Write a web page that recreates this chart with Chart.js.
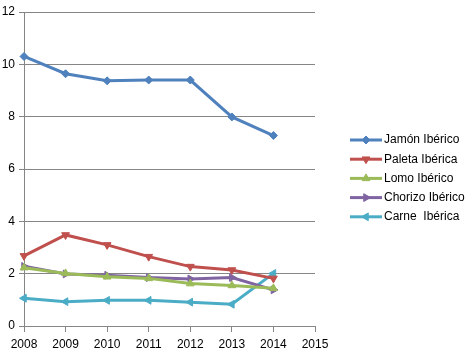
<!DOCTYPE html>
<html>
<head>
<meta charset="utf-8">
<script src="https://cdn.jsdelivr.net/npm/chart.js"></script>
<style>
  html, body { margin: 0; padding: 0; background: #fff; }
  #wrap { width: 472px; height: 353px; }
</style>
</head>
<body>
<div id="wrap"><canvas id="chart" width="472" height="353"></canvas></div>
<script>
const years = ["2008", "2009", "2010", "2011", "2012", "2013", "2014", "2015"];
const seriesNames = ["Jamón Ibérico", "Paleta Ibérica", "Lomo Ibérico", "Chorizo Ibérico", "Carne  Ibérica"];
const jamon = [10.30, 9.64, 9.37, 9.40, 9.40, 7.99, 7.28];
const paleta = [2.68, 3.48, 3.10, 2.65, 2.27, 2.14, 1.82];
const lomo = [2.23, 2.01, 1.88, 1.82, 1.62, 1.55, 1.44];
const chorizo = [2.28, 1.99, 1.94, 1.85, 1.80, 1.85, 1.38];
const carne = [1.06, 0.93, 0.98, 0.98, 0.91, 0.83, 2.01];
const yTicks = [0, 2, 4, 6, 8, 10, 12];

const colors = ["#4F81BD", "#C0504D", "#9BBB59", "#8064A2", "#4BACC6"];
const markers = [
  { style: "rectRot", rotation: 0, radius: 4 },
  { style: "triangle", rotation: 180, radius: 4.5 },
  { style: "triangle", rotation: 0, radius: 4.5 },
  { style: "triangle", rotation: 90, radius: 4.5 },
  { style: "triangle", rotation: 270, radius: 4.5 },
];
const gridColor = "#868686";
const textColor = "#000";
const font = { family: "'Liberation Sans', Arial, sans-serif", size: 12 };

const values = [jamon, paleta, lomo, chorizo, carne];

const datasets = values.map((data, i) => ({
  label: seriesNames[i],
  data,
  borderColor: colors[i],
  backgroundColor: colors[i],
  borderWidth: 3,
  pointStyle: markers[i].style,
  pointRotation: markers[i].rotation,
  pointRadius: markers[i].radius,
  pointBorderWidth: 1,
  tension: 0,
}));

// line + marker legend on the right, Excel style
const sideLegend = {
  id: "sideLegend",
  afterDraw(chart) {
    const ctx = chart.ctx;
    const x0 = 350, x1 = 382, top = 140, step = 19.2;
    ctx.save();
    datasets.forEach((ds, i) => {
      const y = top + i * step;
      ctx.strokeStyle = ds.borderColor;
      ctx.lineWidth = 3;
      ctx.beginPath();
      ctx.moveTo(x0, y);
      ctx.lineTo(x1, y);
      ctx.stroke();
      if (Chart.helpers && Chart.helpers.drawPoint) {
        ctx.fillStyle = ds.backgroundColor;
        ctx.strokeStyle = ds.borderColor;
        ctx.lineWidth = 1;
        Chart.helpers.drawPoint(ctx, {
          pointStyle: ds.pointStyle,
          rotation: ds.pointRotation,
          radius: ds.pointRadius,
          borderWidth: 1,
        }, (x0 + x1) / 2, y);
      }
      ctx.fillStyle = textColor;
      ctx.font = `${font.size}px ${font.family}`;
      ctx.textBaseline = "middle";
      ctx.textAlign = "left";
      ctx.fillText(ds.label, x1 + 2, y);
    });
    ctx.restore();
  },
};

new Chart(document.getElementById("chart"), {
  type: "line",
  data: { labels: years, datasets },
  plugins: [sideLegend],
  options: {
    responsive: false,
    animation: false,
    layout: { padding: { top: 12, right: 157, left: 0, bottom: 0 } },
    plugins: {
      legend: { display: false },
      tooltip: { enabled: false },
    },
    scales: {
      x: {
        type: "category",
        offset: false,
        grid: { drawOnChartArea: false, drawTicks: true, tickLength: 6, color: gridColor },
        border: { color: gridColor, width: 1 },
        ticks: { color: textColor, font, padding: 5, maxRotation: 0, autoSkip: false },
        afterFit(scale) { scale.height = 27; },
      },
      y: {
        min: 0,
        max: 12,
        afterBuildTicks(scale) { scale.ticks = yTicks.map((v) => ({ value: v })); },
        grid: { color: gridColor, tickLength: 5 },
        border: { color: gridColor, width: 1 },
        ticks: { color: textColor, font, padding: 4 },
        afterFit(scale) { scale.width = 24; },
      },
    },
  },
});
</script>
</body>
</html>
